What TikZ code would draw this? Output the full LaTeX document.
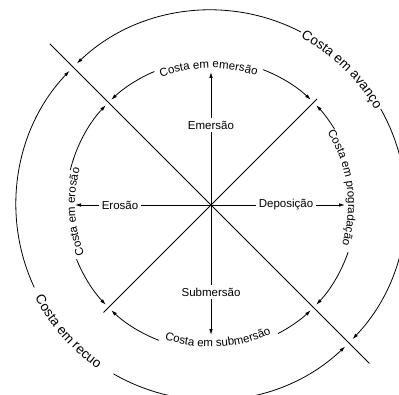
\documentclass[tikz,border=0pt]{standalone}
\usepackage{fontspec}
\setmainfont{Liberation Sans}
\usetikzlibrary{arrows.meta,decorations.text}
\newcommand{\myfontin}{\fontsize{11.5}{13}\selectfont}
\newcommand{\myfontout}{\fontsize{13.5}{15}\selectfont}
\tikzset{
 ln/.style={line width=0.8pt},
 arr/.style={ln,-{Latex[length=6pt,width=3.6pt]}},
 lbl/.style={font=\myfontin, inner sep=2.5pt},
 curvin/.style={decorate,decoration={text along path,text align=center,text={|\myfontin|#1}}},
 curvout/.style={decorate,decoration={text along path,text align=center,text={|\myfontout|#1}}},
}
\begin{document}
\begin{tikzpicture}[x=1pt,y=1pt]
\useasboundingbox (0,0) rectangle (399,394);
\clip (0,0) rectangle (399,394);
\begin{scope}[shift={(211,189)}]
\coordinate (O) at (0,0);
\coordinate (l1a) at (135:228);
\coordinate (l1b) at (-45:224);
\coordinate (l2a) at (45:150);
\coordinate (l2b) at (225:152);
\draw[ln] (l1a) -- (l1b);
\draw[ln] (l2a) -- (l2b);
% axis labels
\node[lbl] (emersao) at (0,80) {Emersão};
\node[lbl] (erosao) at (-91,0) {Erosão};
\node[lbl] (deposicao) at (75,0) {Deposição};
\node[lbl] (submersao) at (0,-87) {Submersão};
\coordinate (tN) at (0,133);
\coordinate (tW) at (-136,0);
\coordinate (tE) at (134,0);
\coordinate (tS) at (0,-130);
\draw[ln] (O) -- (emersao); \draw[arr] (emersao) -- (tN);
\draw[ln] (O) -- (erosao); \draw[arr] (erosao) -- (tW);
\draw[ln] (O) -- (deposicao); \draw[arr] (deposicao) -- (tE);
\draw[ln] (O) -- (submersao); \draw[arr] (submersao) -- (tS);
% inner arcs
\draw[arr] (113:145) arc[start angle=113,end angle=133.5,radius=145];
\draw[arr] (69:145) arc[start angle=69,end angle=46.5,radius=145];
\draw[arr] (31.5:145) arc[start angle=31.5,end angle=43.5,radius=145];
\draw[arr] (-19:145) arc[start angle=-19,end angle=-43.5,radius=145];
\draw[arr] (-62.5:145) arc[start angle=-62.5,end angle=-46.5,radius=145];
\draw[arr] (-111:145) arc[start angle=-111,end angle=-133.5,radius=145];
\draw[arr] (202:145) arc[start angle=202,end angle=223.5,radius=145];
\draw[arr] (166:145) arc[start angle=166,end angle=136.5,radius=145];
% inner curved labels
\path[curvin={Costa em emersão}] (125:137) arc[start angle=125,end angle=57,radius=137];
\path[curvin={Costa em progradação}] (50:137) arc[start angle=50,end angle=-35,radius=137];
\path[curvin={Costa em erosão}] (226:136) arc[start angle=226,end angle=140,radius=136];
\path[curvin={Costa em submersão}] (-130:142) arc[start angle=-130,end angle=-44,radius=142];
% outer arcs
\draw[arr] (62.5:195) arc[start angle=62.5,end angle=133.5,radius=195];
\draw[arr] (29.5:195) arc[start angle=29.5,end angle=-43.5,radius=195];
\draw[arr] (205:195) arc[start angle=205,end angle=136.5,radius=195];
\draw[arr] (240:195) arc[start angle=240,end angle=313.5,radius=195];
% outer curved labels
\path[curvout={Costa em avanço}] (80:190) arc[start angle=80,end angle=12,radius=190];
\path[curvout={Costa em recuo}] (180:199) arc[start angle=180,end angle=263,radius=199];
\end{scope}
\end{tikzpicture}
\end{document}
